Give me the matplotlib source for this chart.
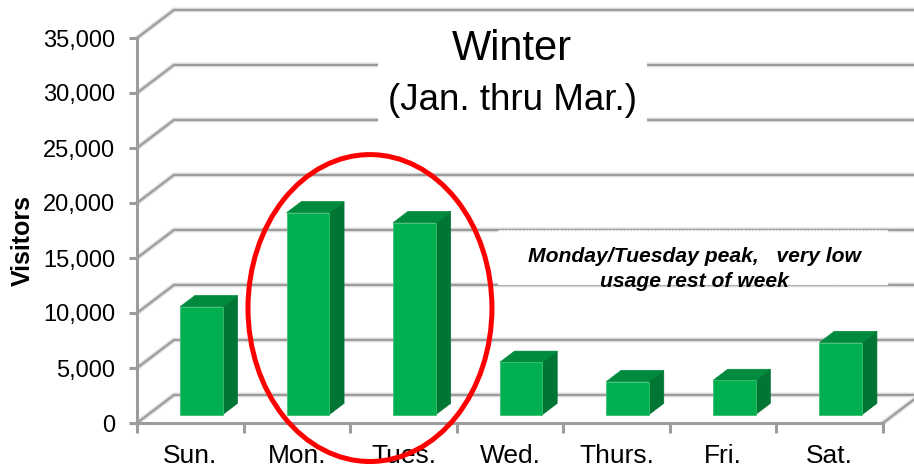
import matplotlib
matplotlib.use("Agg")
import matplotlib.pyplot as plt
from matplotlib.patches import Polygon, Rectangle, Ellipse
from matplotlib.ticker import FuncFormatter

plt.rcParams["font.family"] = ["Liberation Sans", "DejaVu Sans"]

# Winter visitors by day of week
days = ["Sun.", "Mon.", "Tues.", "Wed.", "Thurs.", "Fri.", "Sat."]
visitors = [9800, 18350, 17450, 4750, 3000, 3100, 6550]
y_ticks = [0, 5000, 10000, 15000, 20000, 25000, 30000, 35000]

# Oblique depth of the 3-D box (category units, visitor units)
DEPTH_X = 0.347
DEPTH_Y = 2550
BAR_WIDTH = 0.40
BAR_FRONT = 0.30    # fraction of floor depth where the bar front sits
BAR_DEPTH = 0.40    # fraction of floor depth occupied by the bar

FRONT = "#00B050"
SIDE = "#007534"
TOP = "#008A3E"
GRID_DARK = "#9c9c9c"
GRID_LIGHT = "#dcdcdc"

W, H = 914, 471
fig = plt.figure(figsize=(W / 100, H / 100), dpi=100)
fig.patch.set_facecolor("white")
ax = fig.add_axes([137 / W, 48 / H, 746 / W, 385 / H])
n = len(days)
ax.set_xlim(0, n)
ax.set_ylim(0, y_ticks[-1])
ax.patch.set_alpha(0)

for s in ("top", "right"):
    ax.spines[s].set_visible(False)
for s in ("left", "bottom"):
    ax.spines[s].set_color(GRID_DARK)
    ax.spines[s].set_linewidth(2.2)
    ax.spines[s].set_zorder(5)

# Walls: gridlines running back from the front axis then across the back wall
for v in y_ticks:
    xs = [0, DEPTH_X, n + DEPTH_X + 0.5]
    ys = [v, v + DEPTH_Y, v + DEPTH_Y]
    ax.plot(xs, ys, color=GRID_LIGHT, lw=3.4, clip_on=False, zorder=1,
            solid_capstyle="butt")
    ax.plot(xs, ys, color=GRID_DARK, lw=1.5, clip_on=False, zorder=1.1,
            solid_capstyle="butt")
# Right edge of the floor
ax.plot([n, n + DEPTH_X], [0, DEPTH_Y], color=GRID_LIGHT, lw=3.4,
        clip_on=False, zorder=1)
ax.plot([n, n + DEPTH_X], [0, DEPTH_Y], color=GRID_DARK, lw=1.5,
        clip_on=False, zorder=1.1)

# 3-D bars
dx = BAR_DEPTH * DEPTH_X
dy = BAR_DEPTH * DEPTH_Y
for i, v in enumerate(visitors):
    x0 = i + 0.5 - BAR_WIDTH / 2 + BAR_FRONT * DEPTH_X
    y0 = BAR_FRONT * DEPTH_Y
    x1 = x0 + BAR_WIDTH
    side = Polygon([(x1, y0), (x1 + dx, y0 + dy), (x1 + dx, y0 + dy + v),
                    (x1, y0 + v)], closed=True, facecolor=SIDE,
                   edgecolor=SIDE, lw=0.5, zorder=3, clip_on=False)
    top = Polygon([(x0, y0 + v), (x1, y0 + v), (x1 + dx, y0 + v + dy),
                   (x0 + dx, y0 + v + dy)], closed=True, facecolor=TOP,
                  edgecolor=TOP, lw=0.5, zorder=3, clip_on=False)
    front = Rectangle((x0, y0), BAR_WIDTH, v, facecolor=FRONT,
                      edgecolor="#3cc070", lw=0.6, zorder=4, clip_on=False)
    ax.add_patch(side)
    ax.add_patch(top)
    ax.add_patch(front)

# Axes ticks
ax.set_yticks(y_ticks)
ax.yaxis.set_major_formatter(FuncFormatter(lambda v, p: f"{int(v):,}"))
ax.tick_params(axis="y", direction="out", length=6, width=2.2,
               color=GRID_DARK, labelsize=17, pad=9.5)
ax.set_xticks(range(n + 1))
ax.set_xticklabels([])
ax.set_xticks([i + 0.5 for i in range(n)], minor=True)
ax.set_xticklabels(days, minor=True)
ax.tick_params(axis="x", which="major", direction="out", length=7, width=2.2,
               color=GRID_DARK)
ax.tick_params(axis="x", which="minor", length=0, labelsize=19, pad=15)

fig.text(23 / W, 1 - 241 / H, "Visitors", rotation=90, ha="center",
         va="center", fontsize=18, fontweight="bold")

# Title panel
fig.patches.append(Rectangle((378 / W, 1 - 124 / H), 269 / W, 102 / H,
                             transform=fig.transFigure, facecolor="white",
                             edgecolor="none", zorder=6))
fig.text(512 / W, 1 - 49 / H, "Winter", ha="center", va="center",
         fontsize=30, zorder=7)
fig.text(512 / W, 1 - 100 / H, "(Jan. thru Mar.)", ha="center",
         va="center", fontsize=26.5, zorder=7)

# Comment panel
box_x0, box_x1 = 3.386, 7.045
box_y0, box_y1 = 10000 + DEPTH_Y, 15000 + DEPTH_Y
ax.add_patch(Rectangle((box_x0, box_y0), box_x1 - box_x0, box_y1 - box_y0,
                       facecolor="white", edgecolor="none", zorder=6,
                       clip_on=False))
for yy in (box_y0, box_y1):
    ax.plot([box_x0, box_x1], [yy, yy], color="#c8c8c8", lw=1.0,
            ls=(0, (1, 1.5)), zorder=6.5, clip_on=False)
ax.text(5.235, 14000, "Monday/Tuesday peak,   very low\nusage rest of week",
        ha="center", va="center", fontsize=15.2, fontweight="bold",
        fontstyle="italic", linespacing=1.35, zorder=7)

# Highlight around the Monday/Tuesday peak
ax.add_patch(Ellipse((2.186, 10450), 2.289, 27900, facecolor="none",
                     edgecolor="#ff0000", lw=3.6, zorder=8, clip_on=False))

fig.savefig("out.png", dpi=100, facecolor="white")
